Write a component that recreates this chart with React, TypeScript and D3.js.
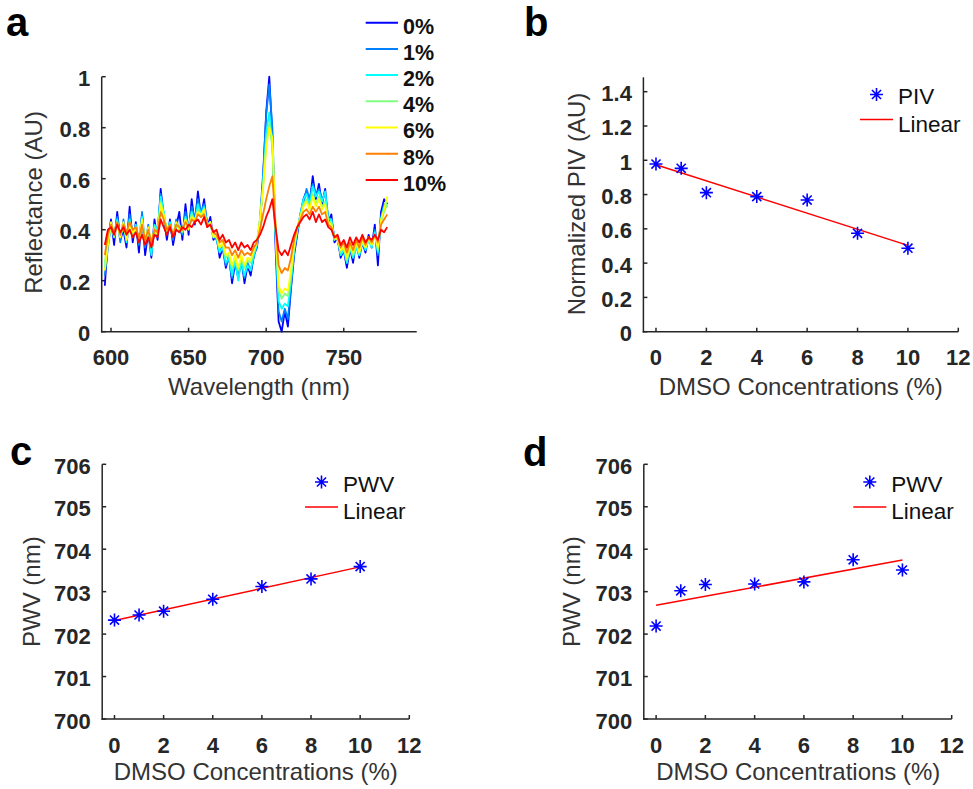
import React from 'react';
import * as d3 from 'd3';

const FONT = '"Liberation Sans", Arial, Helvetica, sans-serif';
const INK = '#262626';

// ---------- Panel a data ----------
const wavelengths = [
  596, 598, 600, 602, 604, 606, 608, 610, 612, 614,
  616, 618, 620, 622, 624, 626, 628, 630, 632, 634,
  636, 638, 640, 642, 644, 646, 648, 650, 652, 654,
  656, 658, 660, 662, 664, 666, 668, 670, 672, 674,
  676, 678, 680, 682, 684, 686, 688, 690, 692, 694,
  696, 698, 700, 702, 704, 706, 708, 710, 712, 714,
  716, 718, 720, 722, 724, 726, 728, 730, 732, 734,
  736, 738, 740, 742, 744, 746, 748, 750, 752, 754,
  756, 758, 760, 762, 764, 766, 768, 770, 772, 774,
  776, 778,
];

const refl0 = [
  0.18, 0.36, 0.44, 0.34, 0.47, 0.36, 0.40, 0.33, 0.49, 0.35,
  0.43, 0.31, 0.46, 0.30, 0.39, 0.29, 0.44, 0.36, 0.56, 0.45,
  0.36, 0.44, 0.34, 0.41, 0.47, 0.36, 0.50, 0.38, 0.52, 0.42,
  0.55, 0.45, 0.52, 0.41, 0.45, 0.36, 0.38, 0.29, 0.33, 0.25,
  0.30, 0.19, 0.27, 0.21, 0.29, 0.19, 0.26, 0.22, 0.30, 0.33,
  0.42, 0.60, 0.86, 1.00, 0.76, 0.34, 0.04, 0.00, 0.08, 0.02,
  0.17, 0.30, 0.38, 0.46, 0.52, 0.55, 0.50, 0.61, 0.52, 0.58,
  0.50, 0.56, 0.43, 0.46, 0.35, 0.37, 0.29, 0.32, 0.25, 0.33,
  0.27, 0.36, 0.29, 0.35, 0.31, 0.38, 0.33, 0.42, 0.26, 0.47,
  0.52, 0.50,
];
const refl1 = [
  0.22, 0.33, 0.42, 0.37, 0.45, 0.35, 0.44, 0.36, 0.46, 0.38,
  0.41, 0.34, 0.47, 0.33, 0.42, 0.31, 0.40, 0.39, 0.54, 0.46,
  0.38, 0.42, 0.36, 0.44, 0.40, 0.38, 0.47, 0.40, 0.49, 0.44,
  0.52, 0.47, 0.50, 0.43, 0.42, 0.38, 0.36, 0.31, 0.34, 0.26,
  0.29, 0.21, 0.28, 0.22, 0.27, 0.21, 0.27, 0.24, 0.29, 0.34,
  0.44, 0.62, 0.85, 0.97, 0.80, 0.38, 0.08, 0.04, 0.09, 0.05,
  0.18, 0.31, 0.39, 0.45, 0.50, 0.56, 0.52, 0.58, 0.54, 0.56,
  0.52, 0.54, 0.45, 0.44, 0.37, 0.36, 0.30, 0.33, 0.27, 0.32,
  0.29, 0.34, 0.30, 0.36, 0.32, 0.37, 0.34, 0.40, 0.30, 0.45,
  0.50, 0.49,
];
const refl2 = [
  0.25, 0.35, 0.41, 0.38, 0.44, 0.37, 0.42, 0.35, 0.44, 0.37,
  0.42, 0.35, 0.45, 0.34, 0.40, 0.30, 0.42, 0.40, 0.53, 0.47,
  0.39, 0.43, 0.37, 0.42, 0.41, 0.39, 0.45, 0.41, 0.47, 0.43,
  0.50, 0.46, 0.49, 0.42, 0.43, 0.37, 0.37, 0.31, 0.33, 0.27,
  0.29, 0.22, 0.28, 0.20, 0.28, 0.22, 0.26, 0.24, 0.30, 0.34,
  0.43, 0.58, 0.78, 0.86, 0.74, 0.38, 0.12, 0.09, 0.11, 0.10,
  0.20, 0.32, 0.40, 0.46, 0.52, 0.54, 0.50, 0.57, 0.53, 0.55,
  0.51, 0.55, 0.44, 0.44, 0.36, 0.37, 0.30, 0.32, 0.27, 0.33,
  0.29, 0.33, 0.30, 0.35, 0.32, 0.36, 0.33, 0.39, 0.31, 0.44,
  0.49, 0.51,
];
const refl4 = [
  0.27, 0.36, 0.42, 0.37, 0.43, 0.38, 0.41, 0.37, 0.43, 0.38,
  0.41, 0.36, 0.43, 0.35, 0.40, 0.33, 0.41, 0.39, 0.51, 0.45,
  0.39, 0.42, 0.38, 0.41, 0.42, 0.39, 0.44, 0.41, 0.46, 0.43,
  0.48, 0.45, 0.47, 0.42, 0.42, 0.38, 0.37, 0.33, 0.34, 0.29,
  0.30, 0.25, 0.29, 0.24, 0.29, 0.25, 0.28, 0.27, 0.31, 0.35,
  0.44, 0.57, 0.74, 0.82, 0.72, 0.40, 0.16, 0.13, 0.15, 0.14,
  0.22, 0.33, 0.40, 0.45, 0.50, 0.52, 0.48, 0.54, 0.50, 0.53,
  0.49, 0.51, 0.43, 0.43, 0.36, 0.37, 0.31, 0.33, 0.28, 0.33,
  0.30, 0.34, 0.31, 0.35, 0.33, 0.36, 0.34, 0.38, 0.32, 0.43,
  0.47, 0.50,
];
const refl6 = [
  0.24, 0.34, 0.43, 0.38, 0.42, 0.37, 0.43, 0.36, 0.42, 0.39,
  0.40, 0.36, 0.44, 0.35, 0.41, 0.34, 0.40, 0.38, 0.50, 0.46,
  0.40, 0.41, 0.38, 0.43, 0.40, 0.40, 0.44, 0.40, 0.45, 0.44,
  0.47, 0.46, 0.48, 0.41, 0.43, 0.37, 0.38, 0.33, 0.35, 0.30,
  0.31, 0.26, 0.30, 0.25, 0.30, 0.26, 0.29, 0.28, 0.32, 0.35,
  0.44, 0.56, 0.72, 0.80, 0.76, 0.42, 0.18, 0.15, 0.17, 0.16,
  0.24, 0.34, 0.41, 0.45, 0.49, 0.51, 0.48, 0.53, 0.49, 0.52,
  0.48, 0.50, 0.43, 0.42, 0.37, 0.36, 0.32, 0.33, 0.29, 0.34,
  0.31, 0.35, 0.31, 0.36, 0.33, 0.37, 0.34, 0.38, 0.33, 0.44,
  0.48, 0.53,
];
const refl8 = [
  0.30, 0.38, 0.42, 0.39, 0.43, 0.38, 0.42, 0.39, 0.43, 0.40,
  0.41, 0.37, 0.42, 0.36, 0.40, 0.35, 0.40, 0.39, 0.47, 0.44,
  0.40, 0.42, 0.38, 0.42, 0.41, 0.40, 0.43, 0.41, 0.44, 0.43,
  0.46, 0.45, 0.46, 0.42, 0.42, 0.39, 0.38, 0.35, 0.36, 0.33,
  0.33, 0.30, 0.32, 0.29, 0.32, 0.30, 0.31, 0.30, 0.33, 0.35,
  0.40, 0.46, 0.52, 0.57, 0.61, 0.42, 0.26, 0.23, 0.25, 0.24,
  0.29, 0.36, 0.41, 0.44, 0.47, 0.48, 0.46, 0.49, 0.47, 0.49,
  0.46, 0.47, 0.42, 0.41, 0.37, 0.37, 0.33, 0.35, 0.31, 0.35,
  0.32, 0.36, 0.33, 0.37, 0.34, 0.37, 0.35, 0.38, 0.35, 0.42,
  0.44, 0.46,
];
const refl10 = [
  0.34, 0.40, 0.41, 0.38, 0.42, 0.39, 0.41, 0.38, 0.40, 0.37,
  0.39, 0.35, 0.38, 0.34, 0.37, 0.33, 0.38, 0.37, 0.44, 0.41,
  0.38, 0.41, 0.37, 0.40, 0.39, 0.41, 0.40, 0.42, 0.41, 0.43,
  0.44, 0.42, 0.45, 0.41, 0.42, 0.39, 0.40, 0.36, 0.38, 0.35,
  0.36, 0.33, 0.35, 0.32, 0.35, 0.33, 0.34, 0.32, 0.35, 0.36,
  0.38, 0.41, 0.45, 0.48, 0.52, 0.41, 0.32, 0.30, 0.32, 0.30,
  0.34, 0.38, 0.41, 0.43, 0.45, 0.46, 0.44, 0.47, 0.43, 0.46,
  0.43, 0.44, 0.41, 0.40, 0.37, 0.38, 0.34, 0.36, 0.33, 0.37,
  0.34, 0.37, 0.35, 0.38, 0.35, 0.37, 0.36, 0.38, 0.36, 0.40,
  0.39, 0.41,
];

const spectraLabels = ['0%', '1%', '2%', '4%', '6%', '8%', '10%'];
const spectraColors = ['#0000ff', '#0080ff', '#00ffff', '#80ff80', '#ffff00', '#ff8000', '#ff0000'];
const spectraValues = [refl0, refl1, refl2, refl4, refl6, refl8, refl10];

const wlTicks = [600, 650, 700, 750];
const reflTicks = [0, 0.2, 0.4, 0.6, 0.8, 1];

// ---------- Panels b, c, d data ----------
const dmso = [0, 1, 2, 4, 6, 8, 10];
const dmsoTicks = [0, 2, 4, 6, 8, 10, 12];
const piv = [0.978, 0.953, 0.811, 0.788, 0.768, 0.574, 0.487];
const pivTicks = [0, 0.2, 0.4, 0.6, 0.8, 1, 1.2, 1.4];
const pwvC = [702.33, 702.45, 702.54, 702.82, 703.12, 703.30, 703.59];
const pwvD = [702.19, 703.02, 703.17, 703.18, 703.23, 703.75, 703.51];
const pwvTicks = [700, 701, 702, 703, 704, 705, 706];

function linearFit(xs: number[], ys: number[]) {
  const mx = d3.mean(xs)!;
  const my = d3.mean(ys)!;
  let sxy = 0, sxx = 0;
  xs.forEach((x, i) => { sxy += (x - mx) * (ys[i] - my); sxx += (x - mx) * (x - mx); });
  const slope = sxy / sxx;
  return { slope, intercept: my - slope * mx };
}

const fmtTick = (v: number) => (Number.isInteger(v) ? String(v) : d3.format('.1f')(v));

function Star({ x, y, r = 6.5 }: { x: number; y: number; r?: number }) {
  const d = 0.7 * r;
  return (
    <path
      d={`M${x - r},${y}H${x + r}M${x},${y - r}V${y + r}M${x - d},${y - d}L${x + d},${y + d}M${x - d},${y + d}L${x + d},${y - d}`}
      stroke="#0000ff"
      strokeWidth={1.6}
      fill="none"
    />
  );
}

type AxesProps = {
  xs: d3.ScaleLinear<number, number>;
  ys: d3.ScaleLinear<number, number>;
  xTicks: number[];
  yTicks: number[];
  xLabel: string;
  yLabel: string;
  xLabelPos: [number, number];
  yLabelPos: [number, number];
};

function Axes({ xs, ys, xTicks, yTicks, xLabel, yLabel, xLabelPos, yLabelPos }: AxesProps) {
  const [x0, x1] = xs.range();
  const [y0, y1] = ys.range();
  return (
    <g fontFamily={FONT} fill={INK}>
      <line x1={x0} x2={x0} y1={y0 + 0.75} y2={y1} stroke={INK} strokeWidth={1.5} />
      <line x1={x0 - 0.75} x2={x1} y1={y0} y2={y0} stroke={INK} strokeWidth={1.5} />
      {yTicks.map((t) => (
        <g key={'y' + t}>
          <line x1={x0} x2={x0 + 4} y1={ys(t)} y2={ys(t)} stroke={INK} strokeWidth={1.5} />
          <text x={x0 - 11.5} y={ys(t) + 9.5} textAnchor="end" fontSize={22} fontWeight="bold">
            {fmtTick(t)}
          </text>
        </g>
      ))}
      {xTicks.map((t) => (
        <g key={'x' + t}>
          <line x1={xs(t)} x2={xs(t)} y1={y0} y2={y0 - 4} stroke={INK} strokeWidth={1.5} />
          <text x={xs(t)} y={y0 + 33.5} textAnchor="middle" fontSize={22} fontWeight="bold">
            {fmtTick(t)}
          </text>
        </g>
      ))}
      <text x={xLabelPos[0]} y={xLabelPos[1]} textAnchor="middle" fontSize={24} fill="#333">
        {xLabel}
      </text>
      <text
        transform={`translate(${yLabelPos[0]},${yLabelPos[1]}) rotate(-90)`}
        textAnchor="middle"
        fontSize={24}
        fill="#333"
      >
        {yLabel}
      </text>
    </g>
  );
}

function FitPanel({
  xs, ys, values, yTicks, yLabel, legendName, legendX, legendY, yLabelPos, xLabelPos,
}: {
  xs: d3.ScaleLinear<number, number>;
  ys: d3.ScaleLinear<number, number>;
  values: number[];
  yTicks: number[];
  yLabel: string;
  legendName: string;
  legendX: number;
  legendY: number;
  yLabelPos: [number, number];
  xLabelPos: [number, number];
}) {
  const fit = linearFit(dmso, values);
  const xa = dmso[0];
  const xb = dmso[dmso.length - 1];
  return (
    <g>
      <Axes
        xs={xs}
        ys={ys}
        xTicks={dmsoTicks}
        yTicks={yTicks}
        xLabel="DMSO Concentrations (%)"
        yLabel={yLabel}
        xLabelPos={xLabelPos}
        yLabelPos={yLabelPos}
      />
      <line
        x1={xs(xa)}
        y1={ys(fit.intercept + fit.slope * xa)}
        x2={xs(xb)}
        y2={ys(fit.intercept + fit.slope * xb)}
        stroke="#ff0000"
        strokeWidth={1.5}
      />
      {dmso.map((d, i) => (
        <Star key={i} x={xs(d)} y={ys(values[i])} />
      ))}
      {/* legend */}
      <g fontFamily={FONT} fontSize={22.5} fill="#111">
        <Star x={legendX + 16.5} y={legendY} />
        <text x={legendX + 38} y={legendY + 9.5}>{legendName}</text>
        <line x1={legendX} x2={legendX + 33} y1={legendY + 25} y2={legendY + 25} stroke="#ff0000" strokeWidth={1.5} />
        <text x={legendX + 38} y={legendY + 37}>Linear</text>
      </g>
    </g>
  );
}

export default function App() {
  // Panel a scales
  const xa = d3.scaleLinear().domain([594, 797]).range([101.7, 416.7]);
  const ya = d3.scaleLinear().domain([0, 1]).range([331.7, 76.7]);
  const line = d3
    .line<number>()
    .x((_, i) => xa(wavelengths[i]))
    .y((v) => ya(v));

  // Panel b
  const xb = d3.scaleLinear().domain([-0.5, 12]).range([643.4, 958.3]);
  const yb = d3.scaleLinear().domain([0, 1.484]).range([331.7, 77.3]);

  // Panel c
  const xc = d3.scaleLinear().domain([-0.5, 12]).range([102.2, 409.3]);
  const yc = d3.scaleLinear().domain([700, 706]).range([719, 464.3]);

  // Panel d
  const xd = d3.scaleLinear().domain([-0.5, 12]).range([643.8, 951.7]);
  const yd = d3.scaleLinear().domain([700, 706]).range([719, 464.3]);

  return (
    <svg
      width={973}
      height={789}
      viewBox="0 0 973 789"
      style={{ position: 'absolute', left: 0, top: 0, background: '#fff' }}
    >
      <rect width={973} height={789} fill="#fff" />
      {/* Panel labels */}
      <g fontFamily={FONT} fontWeight="bold" fontSize={40} fill="#000">
        <text x={6} y={35.5}>a</text>
        <text x={524} y={35.7}>b</text>
        <text x={10} y={465}>c</text>
        <text x={523} y={466}>d</text>
      </g>

      {/* Panel a */}
      <Axes
        xs={xa}
        ys={ya}
        xTicks={wlTicks}
        yTicks={reflTicks}
        xLabel="Wavelength (nm)"
        yLabel="Reflectance (AU)"
        xLabelPos={[259, 395]}
        yLabelPos={[42, 202.5]}
      />
      <g fill="none" strokeWidth={1.8} strokeLinejoin="round">
        {spectraValues.map((vals, i) => (
          <path key={i} d={line(vals) || ''} stroke={spectraColors[i]} />
        ))}
      </g>
      <g fontFamily={FONT} fontWeight="bold" fontSize={21.5} fill="#111">
        {spectraLabels.map((lab, i) => (
          <g key={lab}>
            <line x1={365.7} x2={398} y1={22.7 + i * 26.2} y2={22.7 + i * 26.2} stroke={spectraColors[i]} strokeWidth={2} />
            <text x={403} y={34 + i * 26.1}>{lab}</text>
          </g>
        ))}
      </g>

      {/* Panel b */}
      <FitPanel
        xs={xb}
        ys={yb}
        values={piv}
        yTicks={pivTicks}
        yLabel="Normalized PIV (AU)"
        legendName="PIV"
        legendX={860}
        legendY={94.5}
        yLabelPos={[585, 204]}
        xLabelPos={[800.8, 395]}
      />

      {/* Panel c */}
      <FitPanel
        xs={xc}
        ys={yc}
        values={pwvC}
        yTicks={pwvTicks}
        yLabel="PWV (nm)"
        legendName="PWV"
        legendX={305}
        legendY={482}
        yLabelPos={[39.5, 591.7]}
        xLabelPos={[255.8, 780]}
      />

      {/* Panel d */}
      <FitPanel
        xs={xd}
        ys={yd}
        values={pwvD}
        yTicks={pwvTicks}
        yLabel="PWV (nm)"
        legendName="PWV"
        legendX={853.3}
        legendY={482}
        yLabelPos={[579.5, 591.7]}
        xLabelPos={[798.3, 780]}
      />
    </svg>
  );
}
